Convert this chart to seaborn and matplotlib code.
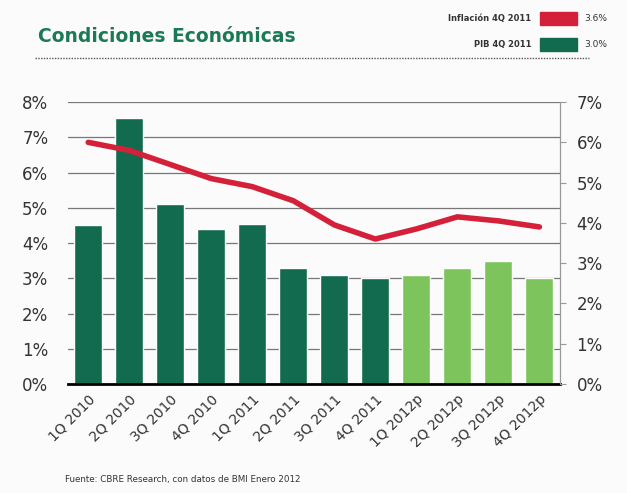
import numpy as np
import pandas as pd
import matplotlib.pyplot as plt
import seaborn as sns

quarters = ['1Q 2010', '2Q 2010', '3Q 2010', '4Q 2010', '1Q 2011', '2Q 2011',
            '3Q 2011', '4Q 2011', '1Q 2012p', '2Q 2012p', '3Q 2012p', '4Q 2012p']
pib = [4.5, 7.55, 5.1, 4.4, 4.55, 3.3, 3.1, 3.0, 3.1, 3.3, 3.5, 3.0]
inflacion = [6.0, 5.8, 5.45, 5.1, 4.9, 4.55, 3.95, 3.6, 3.85, 4.15, 4.05, 3.9]
proyectado = [False] * 8 + [True] * 4

dark_green = '#126b4f'
light_green = '#7dc45c'
red = '#d42038'

sns.set_style('white')
plt.rcParams['font.family'] = ['DejaVu Sans']

df = pd.DataFrame({'q': quarters, 'pib': pib, 'inf': inflacion, 'p': proyectado})
colors = [light_green if p else dark_green for p in proyectado]

fig = plt.figure(figsize=(6.27, 4.93), dpi=100)
fig.patch.set_facecolor('#fcfbfb')
ax = fig.add_axes([0.108, 0.221, 0.785, 0.572])
ax.set_facecolor('#fcfbfb')

sns.barplot(data=df, x='q', y='pib', hue='q', palette=colors, legend=False,
            width=0.68, saturation=1, ax=ax, zorder=3)
ax.set_ylim(0, 8)
ax.set_xlim(-0.5, 11.5)
ax.set_yticks(range(9))
ax.set_yticklabels([f'{i}%' for i in range(9)], fontsize=12, color='#333333')
ax.yaxis.grid(True, color='#777777', linewidth=0.9, zorder=0)
ax.set_axisbelow(True)
ax.set_xlabel('')
ax.set_ylabel('')
ax.set_xticks(range(len(quarters)))
ax.set_xticklabels(quarters, rotation=45, ha='right', rotation_mode='anchor',
                   fontsize=10, color='#333333')
ax.tick_params(axis='x', length=0, pad=6)
ax.tick_params(axis='y', length=0, pad=14)
for s in ['left', 'top']:
    ax.spines[s].set_visible(False)
ax.spines['right'].set_color('#999999')
ax.spines['right'].set_linewidth(0.8)
ax.spines['bottom'].set_color('black')
ax.spines['bottom'].set_linewidth(2)
ax.spines['bottom'].set_zorder(5)

ax2 = ax.twinx()
sns.lineplot(x=np.arange(len(quarters)), y=inflacion, color=red, linewidth=4,
             ax=ax2, solid_capstyle='round', solid_joinstyle='round', zorder=4)
ax2.set_ylim(0, 7)
ax2.set_yticks(range(8))
ax2.set_yticklabels([f'{i}%' for i in range(8)], fontsize=12, color='#333333')
ax2.tick_params(axis='y', length=4, color='#999999', pad=8)
for s in ['left', 'top', 'bottom']:
    ax2.spines[s].set_visible(False)
ax2.spines['right'].set_color('#999999')
ax2.spines['right'].set_linewidth(0.8)

# encabezado
fig.text(0.06, 0.925, 'Condiciones Económicas', fontsize=13.5, fontweight='bold',
         color='#1b7a56', va='center')
fig.lines.append(plt.Line2D([0.056, 0.94], [0.882, 0.882], transform=fig.transFigure,
                            color='#555555', linewidth=1, linestyle=(0, (1, 1))))

fig.text(0.847, 0.962, 'Inflación 4Q 2011', fontsize=6, color='#333333', ha='right',
         va='center', fontweight='bold')
fig.patches.append(plt.Rectangle((0.862, 0.949), 0.058, 0.027, transform=fig.transFigure,
                                 color=red))
fig.text(0.932, 0.962, '3.6%', fontsize=6.5, color='#333333', va='center')
fig.text(0.847, 0.909, 'PIB 4Q 2011', fontsize=6, color='#333333', ha='right',
         va='center', fontweight='bold')
fig.patches.append(plt.Rectangle((0.862, 0.896), 0.058, 0.027, transform=fig.transFigure,
                                 color=dark_green))
fig.text(0.932, 0.909, '3.0%', fontsize=6.5, color='#333333', va='center')

fig.text(0.104, 0.028, 'Fuente: CBRE Research, con datos de BMI Enero 2012', fontsize=6.3,
         color='#333333', va='center')

fig.savefig('out.png', dpi=100, facecolor=fig.get_facecolor())
